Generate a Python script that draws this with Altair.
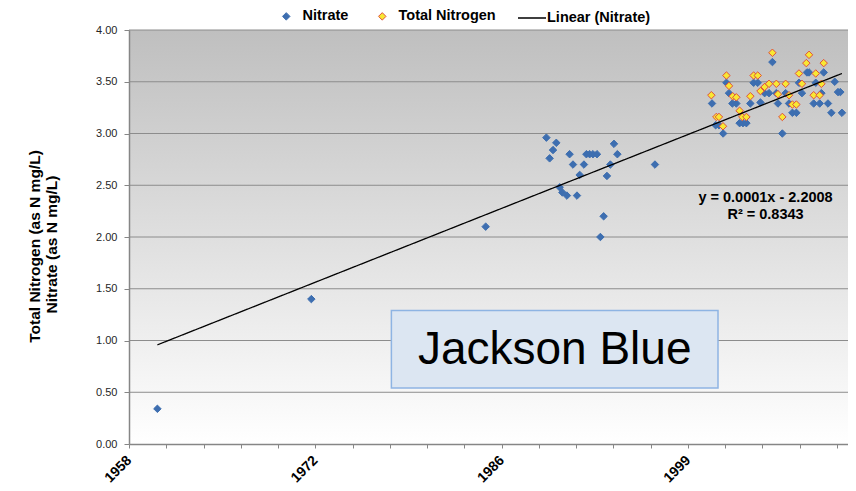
import altair as alt
import pandas as pd

# ---------------- data ----------------
nitrate_dates = [
    "1960-12-12", "1972-04-05", "1985-01-26",
    "1989-07-13", "1989-10-08", "1990-01-07", "1990-04-05", "1990-07-05",
    "1990-09-16", "1991-01-15", "1991-03-28", "1991-06-27", "1991-10-12",
    "1991-12-24", "1992-04-16", "1992-06-21", "1992-09-17", "1992-12-14",
    "1993-04-01", "1993-07-01", "1993-09-27", "1993-12-24", "1994-03-26",
    "1994-07-01", "1994-09-30", "1997-07-05",
    "2001-09-13", "2001-12-20", "2002-03-18", "2002-07-09", "2002-10-05",
    "2002-12-13", "2003-03-14", "2003-06-28", "2003-09-24", "2003-12-23",
    "2004-03-24", "2004-07-08", "2004-10-04", "2005-01-22", "2005-04-05",
    "2005-07-27", "2005-11-21", "2006-02-20", "2006-06-06", "2006-07-19",
    "2006-11-14", "2007-02-10", "2007-05-12", "2007-08-11", "2007-11-25",
    "2008-02-03", "2008-04-23", "2008-09-05", "2008-10-30", "2009-03-04",
    "2009-04-28", "2009-08-12", "2009-09-27", "2009-11-28", "2010-03-22",
    "2010-06-21", "2010-09-20", "2010-12-16", "2011-02-17", "2011-04-01",
]
nitrate_values = [
    0.34, 1.40, 2.10,
    2.96, 2.76, 2.84, 2.91, 2.48,
    2.43, 2.40, 2.80, 2.70, 2.40,
    2.60, 2.70, 2.80, 2.80, 2.80,
    2.80, 2.00, 2.20, 2.59, 2.70,
    2.90, 2.80, 2.70,
    3.29, 3.08, 3.08, 3.00, 3.49,
    3.39, 3.29, 3.29, 3.10, 3.10,
    3.10, 3.29, 3.49, 3.49, 3.30,
    3.39, 3.39, 3.69, 3.39, 3.29,
    3.00, 3.39, 3.29, 3.20, 3.20,
    3.49, 3.39, 3.59, 3.59, 3.29,
    3.49, 3.29, 3.39, 3.59, 3.29,
    3.20, 3.50, 3.40, 3.40, 3.20,
]
tn_dates = [
    "2001-08-26", "2002-01-08", "2002-03-18", "2002-07-05", "2002-10-05",
    "2002-12-13", "2003-03-22", "2003-06-28", "2003-09-24", "2003-12-06",
    "2004-03-24", "2004-07-08", "2004-10-04", "2005-01-22", "2005-04-05",
    "2005-07-27", "2005-11-21", "2006-02-20", "2006-06-06", "2006-07-19",
    "2006-11-14", "2007-02-10", "2007-05-12", "2007-08-11", "2007-11-25",
    "2008-02-03", "2008-04-23", "2008-08-18", "2008-10-30", "2009-03-04",
    "2009-04-28", "2009-08-12", "2009-09-27", "2009-11-28",
]
tn_values = [
    3.37, 3.16, 3.16, 3.07, 3.56,
    3.46, 3.36, 3.35, 3.22, 3.16,
    3.16, 3.36, 3.56, 3.56, 3.41,
    3.45, 3.48, 3.78, 3.48, 3.38,
    3.16, 3.48, 3.37, 3.28, 3.28,
    3.58, 3.48, 3.68, 3.76, 3.37,
    3.58, 3.37, 3.48, 3.68,
]

point_series = ["Nitrate", "Total Nitrogen"]
trend_series = ["Linear (Nitrate)"]
y_title_line1 = "Total Nitrogen (as N mg/L)"
y_title_line2 = "Nitrate (as N mg/L)"
y_ticks = [0.0, 0.5, 1.0, 1.5, 2.0, 2.5, 3.0, 3.5, 4.0]
grid_values = [0.5, 1.0, 1.5, 2.0, 2.5, 3.0, 3.5, 4.0]

axis_start = "1958-11-11"
axis_end = "2011-09-11"
minor_step_days = 1000
major_every = 5
n_ticks = 20

eq_lines = ["y = 0.0001x - 2.2008", "R\u00b2 = 0.8343"]
eq_date = "2005-08-20"
eq_values = [2.38, 2.215]

box_label = "Jackson Blue"
box_start, box_end = "1978-02-21", "2002-02-21"
box_top, box_bottom = 1.29, 0.54
box_text_date, box_text_value = "1990-02-21", 0.77

# ---------------- helpers ----------------
def ms(s):
    return int(pd.Timestamp(s).value // 10**6)

t0, t1 = ms(axis_start), ms(axis_end)
day_ms = 86400000
tick_vals = [t0 + k * minor_step_days * day_ms for k in range(n_ticks)]
period = minor_step_days * major_every * day_ms
label_expr = f"((datum.value - ({t0})) % {period}) == 0 ? utcFormat(datum.value, '%Y') : ''"

rows = [{"t": ms(d), "value": v, "series": "Nitrate"} for d, v in zip(nitrate_dates, nitrate_values)]
rows += [{"t": ms(d), "value": v, "series": "Total Nitrogen"} for d, v in zip(tn_dates, tn_values)]
df = pd.DataFrame(rows)

W, H = 719, 414
FONT = "Liberation Sans"

x_scale = alt.Scale(type="utc", domain=[t0, t1], nice=False)
y_scale = alt.Scale(domain=[0, 4], nice=False)

x_axis = alt.Axis(
    values=tick_vals, labelExpr=label_expr, labelAngle=-45, labelAlign="right",
    labelBaseline="middle", labelFont=FONT, labelFontSize=14, labelFontWeight="bold",
    labelColor="#000000", labelPadding=10, labelOverlap=False, labelFlush=False,
    tickSize=4, tickColor="#868686", domainColor="#868686", domainWidth=1.5,
    grid=False, title=None, zindex=1,
)
# main y axis: labels, ticks, first title line
y_axis_main = alt.Axis(
    orient="left", values=y_ticks, format=".2f", labelFont=FONT, labelFontSize=11,
    labelColor="#262626", labelPadding=7, tickSize=5, tickColor="#868686",
    domainColor="#868686", domainWidth=1.5, grid=False,
    title=y_title_line1, titleFont=FONT, titleFontSize=15.5, titleFontWeight="bold",
    titleColor="#000000", titleAngle=270, titleBaseline="bottom", titleAlign="center",
    titleX=-87, titleY=216, zindex=1,
)
# second y axis: only the second title line
y_axis_second = alt.Axis(
    orient="left", values=y_ticks, labels=False, ticks=False, domain=False, grid=False,
    title=y_title_line2, titleFont=FONT, titleFontSize=15.5, titleFontWeight="bold",
    titleColor="#000000", titleAngle=270, titleBaseline="bottom", titleAlign="center",
    titleX=-70, titleY=214, zindex=1,
)

legend_points = alt.Legend(
    title=None, orient="none", direction="horizontal", legendX=150, legendY=-21,
    labelFont=FONT, labelFontSize=14.5, labelFontWeight="bold", labelColor="#000000",
    labelOffset=9, columnPadding=26, symbolType="diamond", symbolSize=56,
    symbolStrokeWidth=1, symbolOpacity=1,
)
legend_trend = alt.Legend(
    title=None, orient="none", direction="horizontal", legendX=388, legendY=-27,
    labelFont=FONT, labelFontSize=14.5, labelFontWeight="bold", labelColor="#000000",
    labelOffset=0, symbolType="stroke", symbolSize=784, symbolStrokeColor="#000000",
    symbolStrokeWidth=1.3, symbolOpacity=1,
)
fill_scale = alt.Scale(domain=point_series, range=["#3d6eb0", "#f8e833"])
stroke_scale = alt.Scale(domain=point_series, range=["#3d6eb0", "#e0503c"])
dash_scale = alt.Scale(domain=trend_series, range=[[1, 0]])

# background gradient of the plot area
bg = alt.Chart(alt.Data(values=[{}])).mark_rect(
    color=alt.Gradient(
        gradient="linear", x1=0, x2=0, y1=0, y2=1,
        stops=[alt.GradientStop(color="#bfbfbf", offset=0), alt.GradientStop(color="#ffffff", offset=1)],
    )
).encode(x=alt.value(0), x2=alt.value(W), y=alt.value(0), y2=alt.value(H))

grid = alt.Chart(pd.DataFrame({"g": grid_values})).mark_rule(color="#8c8c8c", strokeWidth=1).encode(
    y=alt.Y("g:Q", scale=y_scale, axis=y_axis_main)
)

points = alt.Chart(df).mark_point(
    filled=True, shape="diamond", size=56, opacity=1, strokeWidth=1
).encode(
    x=alt.X("t:T", scale=x_scale, axis=x_axis),
    y=alt.Y("value:Q", scale=y_scale, axis=y_axis_second),
    fill=alt.Fill("series:N", scale=fill_scale, legend=legend_points),
    stroke=alt.Stroke("series:N", scale=stroke_scale, legend=legend_points),
)

trend = alt.Chart(df).transform_filter(
    alt.datum.series == "Nitrate"
).transform_regression("t", "value").transform_calculate(
    series="'Linear (Nitrate)'"
).mark_line(color="#000000", strokeWidth=1.3).encode(
    x=alt.X("t:Q", scale=x_scale, axis=None),
    y=alt.Y("value:Q", scale=y_scale, axis=None),
    strokeDash=alt.StrokeDash("series:N", scale=dash_scale, legend=legend_trend),
)

eq_df = pd.DataFrame({"t": [ms(eq_date)] * 2, "value": eq_values, "label": eq_lines})
eq = alt.Chart(eq_df).mark_text(
    font=FONT, fontSize=14.5, fontWeight="bold", color="#000000", align="center", baseline="middle"
).encode(
    x=alt.X("t:T", scale=x_scale, axis=None),
    y=alt.Y("value:Q", scale=y_scale, axis=None),
    text="label:N",
)

box_df = pd.DataFrame({"t": [ms(box_start)], "t2": [ms(box_end)], "v": [box_top], "v2": [box_bottom]})
box = alt.Chart(box_df).mark_rect(fill="#dce6f2", stroke="#8eb4e3", strokeWidth=1.5).encode(
    x=alt.X("t:T", scale=x_scale, axis=None), x2="t2:T",
    y=alt.Y("v:Q", scale=y_scale, axis=None), y2="v2:Q",
)
box_txt_df = pd.DataFrame({"t": [ms(box_text_date)], "value": [box_text_value], "label": [box_label]})
box_txt = alt.Chart(box_txt_df).mark_text(
    font=FONT, fontSize=46, color="#000000", align="center", baseline="alphabetic"
).encode(
    x=alt.X("t:T", scale=x_scale, axis=None),
    y=alt.Y("value:Q", scale=y_scale, axis=None),
    text="label:N",
)

chart = alt.layer(bg, grid, points, trend, eq, box, box_txt).resolve_axis(
    y="independent"
).properties(
    width=W, height=H,
    autosize=alt.AutoSizeParams(type="none"),
    padding={"left": 121, "top": 22, "right": 0, "bottom": 47},
    background="#ffffff",
).configure_view(stroke=None)

chart.save("out.html", embed_options={"renderer": "svg", "actions": False})
